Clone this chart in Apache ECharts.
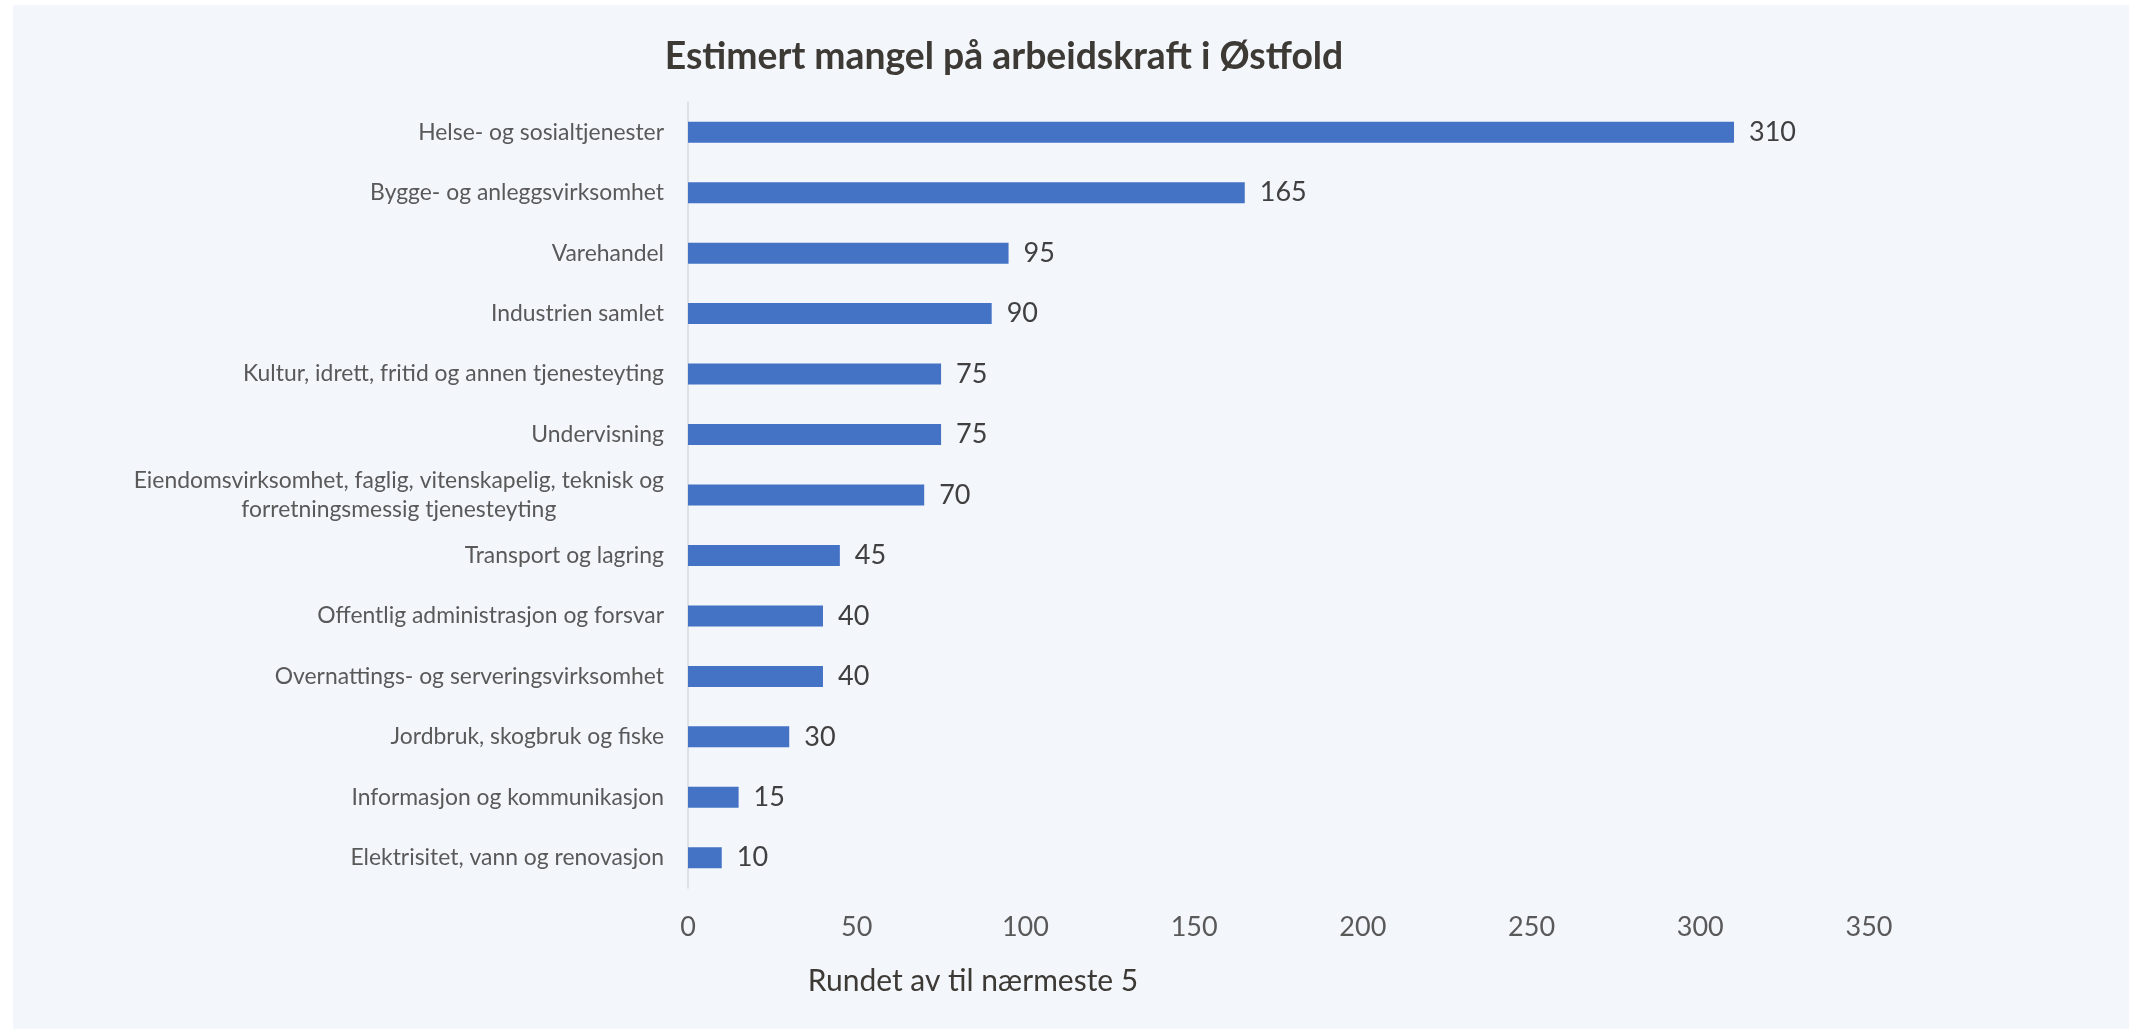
<!DOCTYPE html>
<html>
<head>
<meta charset="utf-8">
<script src="https://cdn.jsdelivr.net/npm/echarts@6/dist/echarts.min.js"></script>
<style>
html,body{margin:0;padding:0;background:#ffffff;}
#chart{width:2136px;height:1029px;}
</style>
</head>
<body>
<div id="chart"></div>
<script>
const titleText = 'Estimert mangel på arbeidskraft i Østfold';
const axisTitle = 'Rundet av til nærmeste 5';
const categories = [
  'Helse- og sosialtjenester',
  'Bygge- og anleggsvirksomhet',
  'Varehandel',
  'Industrien samlet',
  'Kultur, idrett, fritid og annen tjenesteyting',
  'Undervisning',
  'Eiendomsvirksomhet, faglig, vitenskapelig, teknisk og forretningsmessig tjenesteyting',
  'Transport og lagring',
  'Offentlig administrasjon og forsvar',
  'Overnattings- og serveringsvirksomhet',
  'Jordbruk, skogbruk og fiske',
  'Informasjon og kommunikasjon',
  'Elektrisitet, vann og renovasjon'
];
const values = [310, 165, 95, 90, 75, 75, 70, 45, 40, 40, 30, 15, 10];
const xMin = 0;
const xMax = 350;
const xInterval = 50;

const FONT = 'Lato, "Noto Sans", sans-serif';
const ctx = document.createElement('canvas').getContext('2d');
function fit(text, weight, target) {
  ctx.font = weight + ' 100px ' + FONT;
  return Math.round(10 * 100 * target / ctx.measureText(text).width) / 10;
}
const catSize = fit('Kultur, idrett, fritid og annen tjenesteyting', 'normal', 421);
const titleSize = fit(titleText, 'bold', 679);
const nameSize = fit(axisTitle, 'normal', 330);

function wrap(s, maxChars) {
  const words = s.split(' ');
  const lines = [];
  let cur = '';
  words.forEach(w => {
    const t = cur ? cur + ' ' + w : w;
    if (t.length > maxChars && cur) { lines.push(cur); cur = w; }
    else cur = t;
  });
  if (cur) lines.push(cur);
  return lines;
}

const chart = echarts.init(document.getElementById('chart'), null, {renderer: 'canvas'});
chart.setOption({
  backgroundColor: '#ffffff',
  animation: false,
  textStyle: {fontFamily: FONT},
  graphic: [
    {type: 'rect', z: -10, silent: true,
     shape: {x: 13, y: 5, width: 2116, height: 1024},
     style: {fill: '#F3F6FB'}},
    {type: 'text', x: 1004, y: 57, z: 10,
     style: {text: titleText, align: 'center', verticalAlign: 'middle',
       fontFamily: FONT, fontWeight: 'bold', fontSize: titleSize, fill: '#3D3935'}},
    {type: 'text', x: 973, y: 981, z: 10,
     style: {text: axisTitle, align: 'center', verticalAlign: 'middle',
       fontFamily: FONT, fontSize: nameSize, fill: '#3D3935'}}
  ],
  grid: {left: 688, right: 267, top: 102, bottom: 141, containLabel: false},
  xAxis: {
    type: 'value', min: xMin, max: xMax, interval: xInterval,
    axisLine: {show: false}, axisTick: {show: false}, splitLine: {show: false},
    axisLabel: {color: '#595959', fontSize: 27, margin: 26, fontFamily: FONT}
  },
  yAxis: {
    type: 'category', inverse: true, data: categories,
    axisLine: {show: true, lineStyle: {color: '#D9D9D9', width: 1.5}},
    axisTick: {show: false},
    axisLabel: {
      margin: 24, color: '#595959', fontSize: catSize, fontFamily: FONT,
      formatter: v => wrap(v, 55).map(l => '{c|' + l + '}').join('\n'),
      rich: {c: {align: 'center', color: '#595959', fontSize: catSize, fontFamily: FONT, lineHeight: 29}}
    }
  },
  series: [{
    type: 'bar', data: values, barWidth: 21,
    itemStyle: {color: '#4472C4'},
    label: {show: true, position: 'right', distance: 15, color: '#404040', fontSize: 27, fontFamily: FONT}
  }]
});
</script>
</body>
</html>
